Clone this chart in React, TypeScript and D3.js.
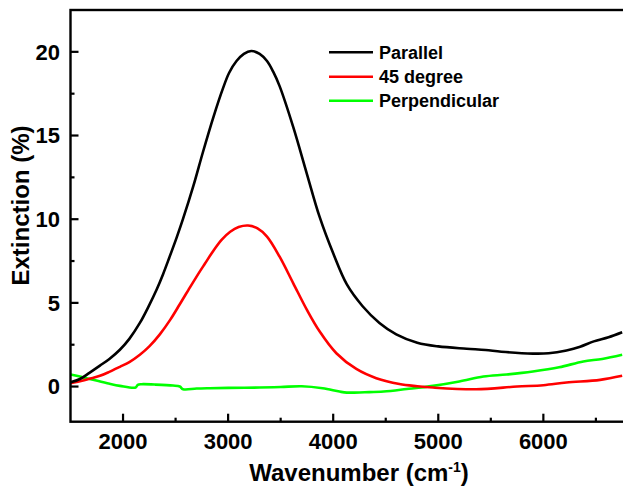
import React from "react";
import * as d3 from "d3";

const parallelWn = [1500,1590,1680,1780,1870,1970,2060,2160,2240,2320,2380,2440,2510,2570,2670,2760,2860,2950,3010,3080,3150,3220,3300,3370,3430,3490,3620,3750,3870,4000,4130,4280,4440,4600,4800,5000,5270,5450,5600,5900,6050,6220,6350,6480,6620,6750];
const parallelExt = [0.25,0.45,0.82,1.25,1.65,2.2,2.85,3.8,4.75,5.8,6.7,7.7,8.9,10.0,12.0,14.0,16.1,17.8,18.75,19.45,19.88,20.05,19.88,19.45,18.8,17.95,15.5,12.7,10.15,7.96,6.1,4.8,3.8,3.12,2.62,2.4,2.26,2.18,2.08,1.97,1.99,2.16,2.38,2.7,2.95,3.25];

const degWn = [1500,1600,1700,1780,1870,1970,2060,2160,2250,2350,2450,2540,2620,2700,2780,2860,2940,3020,3100,3190,3280,3370,3490,3620,3750,3870,4030,4220,4410,4630,4800,4950,5360,5750,6000,6220,6540,6750];
const degExt = [0.2,0.33,0.5,0.64,0.88,1.18,1.46,1.9,2.4,3.12,4.0,4.92,5.75,6.57,7.35,8.12,8.78,9.25,9.53,9.62,9.45,8.96,7.76,6.17,4.58,3.3,1.99,1.05,0.5,0.15,0.02,-0.06,-0.16,0.0,0.08,0.24,0.4,0.64];

const perpWn = [1500,1600,1715,1850,1970,2120,2140,2175,2300,2476,2540,2571,2700,2825,3000,3300,3500,3700,3900,4060,4130,4300,4480,4700,4950,5200,5430,5650,5900,6150,6380,6560,6750];
const perpExt = [0.72,0.58,0.40,0.2,0.04,-0.06,0.1,0.14,0.12,0.06,0.0,-0.16,-0.12,-0.10,-0.08,-0.06,-0.03,0.02,-0.1,-0.3,-0.36,-0.34,-0.30,-0.15,0.04,0.3,0.6,0.72,0.9,1.15,1.5,1.65,1.9];

const seriesNames = ["Parallel", "45 degree", "Perpendicular"];
const seriesColors = ["#000000", "#ff0000", "#00ff00"];
const xMajorTicks = [2000, 3000, 4000, 5000, 6000];
const xMinorTicks = [2500, 3500, 4500, 5500, 6500];
const yMajorTicks = [0, 5, 10, 15, 20];
const yMinorTicks = [2.5, 7.5, 12.5, 17.5];

export default function App() {
  const W = 623, H = 491;
  const left = 70.5, top = 10, bottom = 421.7;
  const x = d3.scaleLinear().domain([1500, 6800]).range([left, left + 5300 * 0.10508]);
  const y = d3.scaleLinear().domain([-2.1, 22.5]).range([bottom, top]);
  const line = d3.line<[number, number]>().x(d => x(d[0])).y(d => y(d[1])).curve(d3.curveCatmullRom.alpha(0.5));
  const series = [
    parallelWn.map((v, i) => [v, parallelExt[i]] as [number, number]),
    degWn.map((v, i) => [v, degExt[i]] as [number, number]),
    perpWn.map((v, i) => [v, perpExt[i]] as [number, number]),
  ];
  const font = "'Liberation Sans', Arial, sans-serif";
  const right = x(6800);
  const legendY = [52.3, 76.7, 100.7];
  return (
    <svg width={W} height={H} style={{ position: "absolute", left: 0, top: 0, background: "#fff" }} fontFamily={font} fontWeight="bold">
      {[2, 1, 0].map(i => (
        <path key={i} d={line(series[i]) || ""} fill="none" stroke={seriesColors[i]} strokeWidth={2.6} strokeLinejoin="round" />
      ))}
      <rect x={left} y={top} width={right - left} height={bottom - top} fill="none" stroke="#000" strokeWidth={2.4} />
      {xMajorTicks.map(t => (
        <g key={"xm" + t}>
          <line x1={x(t)} x2={x(t)} y1={bottom} y2={bottom - 8} stroke="#000" strokeWidth={2.2} />
          <text x={x(t)} y={449} textAnchor="middle" fontSize={22}>{t}</text>
        </g>
      ))}
      {xMinorTicks.map(t => (
        <line key={"xn" + t} x1={x(t)} x2={x(t)} y1={bottom} y2={bottom - 4} stroke="#000" strokeWidth={2.2} />
      ))}
      {yMajorTicks.map(t => (
        <g key={"ym" + t}>
          <line x1={left} x2={left + 8} y1={y(t)} y2={y(t)} stroke="#000" strokeWidth={2.2} />
          <text x={60} y={y(t)} dy="0.36em" textAnchor="end" fontSize={22}>{t}</text>
        </g>
      ))}
      {yMinorTicks.map(t => (
        <line key={"yn" + t} x1={left} x2={left + 4} y1={y(t)} y2={y(t)} stroke="#000" strokeWidth={2.2} />
      ))}
      <text x={359} y={481} textAnchor="middle" fontSize={24}>
        Wavenumber (cm<tspan dy={-9} fontSize={14}>-1</tspan><tspan dy={9}>)</tspan>
      </text>
      <text transform={`translate(29,${205.5}) rotate(-90)`} textAnchor="middle" fontSize={24}>Extinction (%)</text>
      {seriesNames.map((n, i) => (
        <g key={n}>
          <line x1={329} x2={373} y1={legendY[i]} y2={legendY[i]} stroke={seriesColors[i]} strokeWidth={2.6} />
          <text x={379} y={legendY[i]} dy="0.36em" fontSize={18}>{n}</text>
        </g>
      ))}
    </svg>
  );
}
